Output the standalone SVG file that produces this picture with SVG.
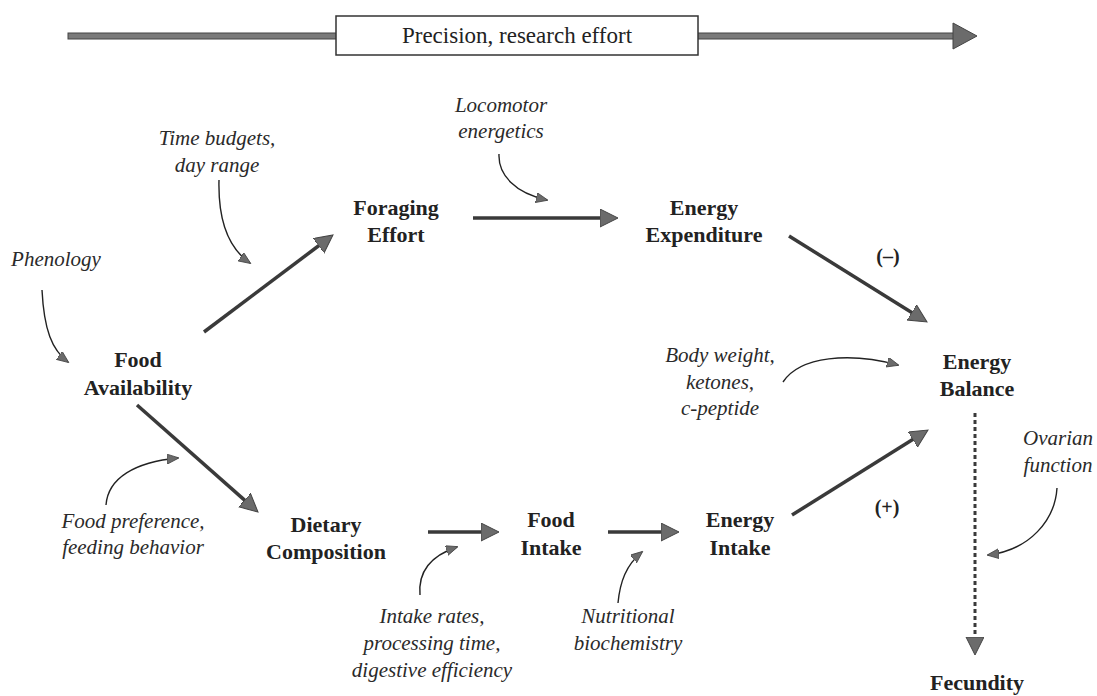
<svg xmlns="http://www.w3.org/2000/svg" width="1097" height="696" viewBox="0 0 1097 696">
<style>
.n{font-family:"Liberation Serif",serif;font-weight:bold;font-size:22px;fill:#222;text-anchor:middle}
.s{font-family:"Liberation Serif",serif;font-weight:bold;font-size:20px;fill:#222;text-anchor:middle}
.i{font-family:"Liberation Serif",serif;font-style:italic;font-size:21px;fill:#2a2a2a;text-anchor:middle}
.t{font-family:"Liberation Serif",serif;font-size:23px;fill:#222;text-anchor:middle}
.thick{stroke:#3a3a3a;stroke-width:3.5;fill:none;marker-end:url(#big)}
.dot{stroke:#3a3a3a;stroke-width:3;stroke-dasharray:4 3;fill:none;marker-end:url(#big)}
.thin{stroke:#222;stroke-width:1.4;fill:none;marker-end:url(#small)}
</style>
<defs>
<marker id="big" markerUnits="userSpaceOnUse" markerWidth="20" markerHeight="20" refX="8" refY="9" orient="auto"><path d="M0,0 L18,9 L0,18 z" fill="#6b6b6b" stroke="#444" stroke-width="1"/></marker>
<marker id="small" markerUnits="userSpaceOnUse" markerWidth="14" markerHeight="12" refX="11" refY="5" orient="auto"><path d="M0,0 L12,5 L0,10 z" fill="#6b6b6b" stroke="#444" stroke-width="0.8"/></marker>
</defs>
<rect width="1097" height="696" fill="#fff"/>
<g id="precision-bar">
<rect x="68" y="33" width="886" height="6" fill="#7a7a7a" stroke="#444" stroke-width="1"/>
<polygon points="953,23 977,36 953,49" fill="#6b6b6b" stroke="#444" stroke-width="1"/>
<rect x="336" y="16" width="362" height="39" fill="#fff" stroke="#333" stroke-width="1.5"/>
<text class="t" x="517" y="43">Precision, research effort</text>
</g>
<g id="connectors">
<path class="thick" d="M204,332 L325,241"/>
<path class="thick" d="M473,218 L608,218"/>
<path class="thick" d="M789,236 L918.5,316.7"/>
<path class="thick" d="M137,405 L250.5,505.4"/>
<path class="thick" d="M428,532 L489,532"/>
<path class="thick" d="M608,532 L669,532"/>
<path class="thick" d="M792,515 L919.5,435.3"/>
<path class="dot" d="M975,413 L975,645"/>
<path class="thin" d="M42,290 C44,330 52,350 68,362"/>
<path class="thin" d="M219,180 C218,220 228,248 250,263"/>
<path class="thin" d="M499,154 C498,175 515,193 547,200"/>
<path class="thin" d="M783,382 C800,356 850,352 898,365"/>
<path class="thin" d="M106,505 C108,478 135,462 178,458"/>
<path class="thin" d="M420,595 C418,572 430,556 457,547"/>
<path class="thin" d="M618,603 C620,582 626,565 642,552"/>
<path class="thin" d="M1057,488 C1055,520 1030,550 988,555"/>
</g>
<g id="food-availability"><text class="n" x="138" y="367">Food</text><text class="n" x="138" y="395">Availability</text></g>
<g id="foraging-effort"><text class="n" x="396" y="215">Foraging</text><text class="n" x="396" y="242">Effort</text></g>
<g id="energy-expenditure"><text class="n" x="704" y="215">Energy</text><text class="n" x="704" y="242">Expenditure</text></g>
<g id="energy-balance"><text class="n" x="977" y="369">Energy</text><text class="n" x="977" y="396">Balance</text></g>
<g id="dietary-composition"><text class="n" x="326" y="532">Dietary</text><text class="n" x="326" y="559">Composition</text></g>
<g id="food-intake"><text class="n" x="551" y="527">Food</text><text class="n" x="551" y="555">Intake</text></g>
<g id="energy-intake"><text class="n" x="740" y="527">Energy</text><text class="n" x="740" y="555">Intake</text></g>
<g id="fecundity"><text class="n" x="977" y="690">Fecundity</text></g>
<g id="sign-minus"><text class="s" x="888" y="263">(–)</text></g>
<g id="sign-plus"><text class="s" x="887" y="514">(+)</text></g>
<g id="phenology"><text class="i" x="56" y="266">Phenology</text></g>
<g id="time-budgets"><text class="i" x="217" y="145">Time budgets,</text><text class="i" x="217" y="172">day range</text></g>
<g id="locomotor"><text class="i" x="501" y="112">Locomotor</text><text class="i" x="501" y="138">energetics</text></g>
<g id="body-weight"><text class="i" x="720" y="362">Body weight,</text><text class="i" x="720" y="389">ketones,</text><text class="i" x="720" y="415">c-peptide</text></g>
<g id="food-preference"><text class="i" x="133" y="528">Food preference,</text><text class="i" x="133" y="554">feeding behavior</text></g>
<g id="intake-rates"><text class="i" x="432" y="623">Intake rates,</text><text class="i" x="432" y="650">processing time,</text><text class="i" x="432" y="677">digestive efficiency</text></g>
<g id="nutritional"><text class="i" x="628" y="623">Nutritional</text><text class="i" x="628" y="650">biochemistry</text></g>
<g id="ovarian"><text class="i" x="1058" y="445">Ovarian</text><text class="i" x="1058" y="472">function</text></g>
</svg>
